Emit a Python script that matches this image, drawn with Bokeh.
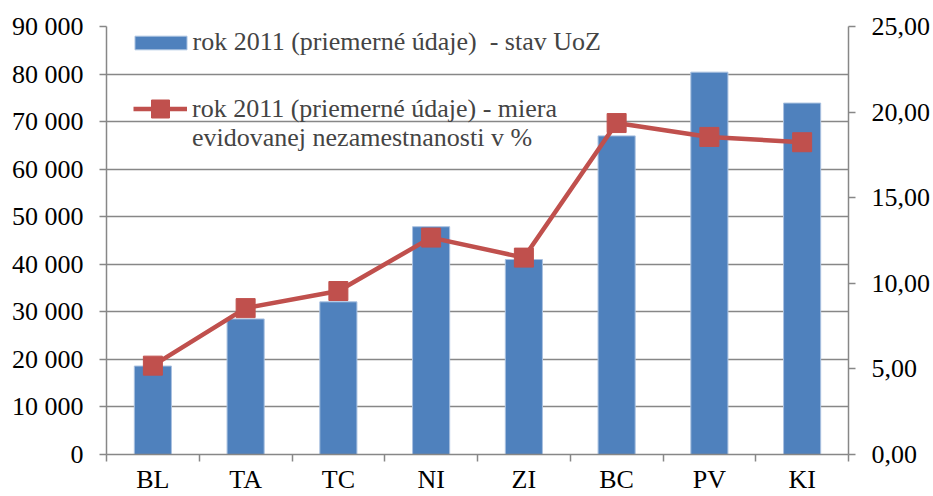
from bokeh.plotting import figure
from bokeh.models import (Range1d, LinearAxis, FixedTicker, CustomJSTickFormatter,
                          Legend, LegendItem)
from bokeh.embed import file_html
from bokeh.resources import INLINE

categories = ["BL", "TA", "TC", "NI", "ZI", "BC", "PV", "KI"]
uoz = [18600, 28500, 32100, 47900, 41000, 67000, 80400, 73900]
rate = [5.19, 8.55, 9.55, 12.67, 11.50, 19.36, 18.55, 18.24]
left_ticks = [0, 10000, 20000, 30000, 40000, 50000, 60000, 70000, 80000, 90000]
right_ticks = [0, 5, 10, 15, 20, 25]
bar_label = "rok 2011 (priemerné údaje)  - stav UoZ"
line_label_1 = "rok 2011 (priemerné údaje) - miera"
line_label_2 = "evidovanej nezamestnanosti v %"

FONT = "Liberation Serif"
FS = "26px"
GRID = "#878787"
BLUE = "#4F81BD"
RED = "#C0504D"

n = len(categories)
xs = [i + 0.5 for i in range(n)]
boundaries = [i for i in range(n + 1)]

p = figure(width=933, height=496, x_range=Range1d(0, n), y_range=Range1d(0, 90000),
           output_backend="svg", toolbar_location=None,
           min_border_left=106, min_border_right=85, min_border_top=26, min_border_bottom=41)
p.extra_y_ranges = {"pct": Range1d(0, 25)}
p.outline_line_color = None
p.background_fill_color = "white"


def style_axis(ax, standoff):
    ax.major_tick_in = 0
    ax.major_tick_out = 7
    ax.major_tick_line_color = GRID
    ax.major_tick_line_width = 1.5
    ax.minor_tick_line_color = None
    ax.axis_line_color = GRID
    ax.axis_line_width = 1.5
    ax.major_label_standoff = standoff
    ax.major_label_text_font = FONT
    ax.major_label_text_font_size = FS
    ax.major_label_text_color = "black"


# x axis: labels at category centres, tick marks at category boundaries
xa = p.xaxis[0]
style_axis(xa, 3)
xa.ticker = FixedTicker(ticks=xs, minor_ticks=boundaries)
xa.formatter = CustomJSTickFormatter(args=dict(cats=categories),
                                     code="return cats[Math.floor(tick)];")
xa.major_tick_line_color = None
xa.minor_tick_in = 0
xa.minor_tick_out = 7
xa.minor_tick_line_color = GRID
xa.minor_tick_line_width = 1.5

# left axis
ya = p.yaxis[0]
style_axis(ya, 16)
ya.ticker = FixedTicker(ticks=left_ticks)
ya.formatter = CustomJSTickFormatter(
    code="return tick.toFixed(0).replace(/\\B(?=(\\d{3})+(?!\\d))/g, ' ');")

# right axis
ra = LinearAxis(y_range_name="pct", ticker=FixedTicker(ticks=right_ticks),
                formatter=CustomJSTickFormatter(code="return tick.toFixed(2).replace('.', ',');"))
style_axis(ra, 16)
p.add_layout(ra, "right")

p.xgrid.grid_line_color = None
p.ygrid.ticker = FixedTicker(ticks=left_ticks)
p.ygrid.grid_line_color = GRID
p.ygrid.grid_line_width = 1.5

bars = p.vbar(x=xs, top=uoz, width=0.4, fill_color=BLUE, line_color="#A9C1E0", line_width=1)
ln = p.line(xs, rate, y_range_name="pct", line_color=RED, line_width=4.5)
mk = p.scatter(xs, rate, y_range_name="pct", marker="square", size=19,
               fill_color=RED, line_color=RED)
dummy = p.line(x=[], y=[], line_alpha=0)

common = dict(padding=0, margin=0, border_line_color=None, background_fill_alpha=0,
              label_text_font=FONT, label_text_font_size=FS, label_height=17)

leg1 = Legend(items=[LegendItem(label=bar_label, renderers=[bars])],
              location=(21.5, 397), glyph_width=65, glyph_height=17, label_standoff=0,
              **common)
leg2 = Legend(items=[LegendItem(label=line_label_1, renderers=[ln, mk])],
              location=(27, 323), glyph_width=54, glyph_height=45, label_standoff=5,
              **common)
leg3 = Legend(items=[LegendItem(label=line_label_2, renderers=[dummy])],
              location=(27, 301), glyph_width=54, glyph_height=17, label_standoff=5,
              **common)
p.add_layout(leg1)
p.add_layout(leg2)
p.add_layout(leg3)

open("out.html", "w").write(file_html(p, INLINE))
